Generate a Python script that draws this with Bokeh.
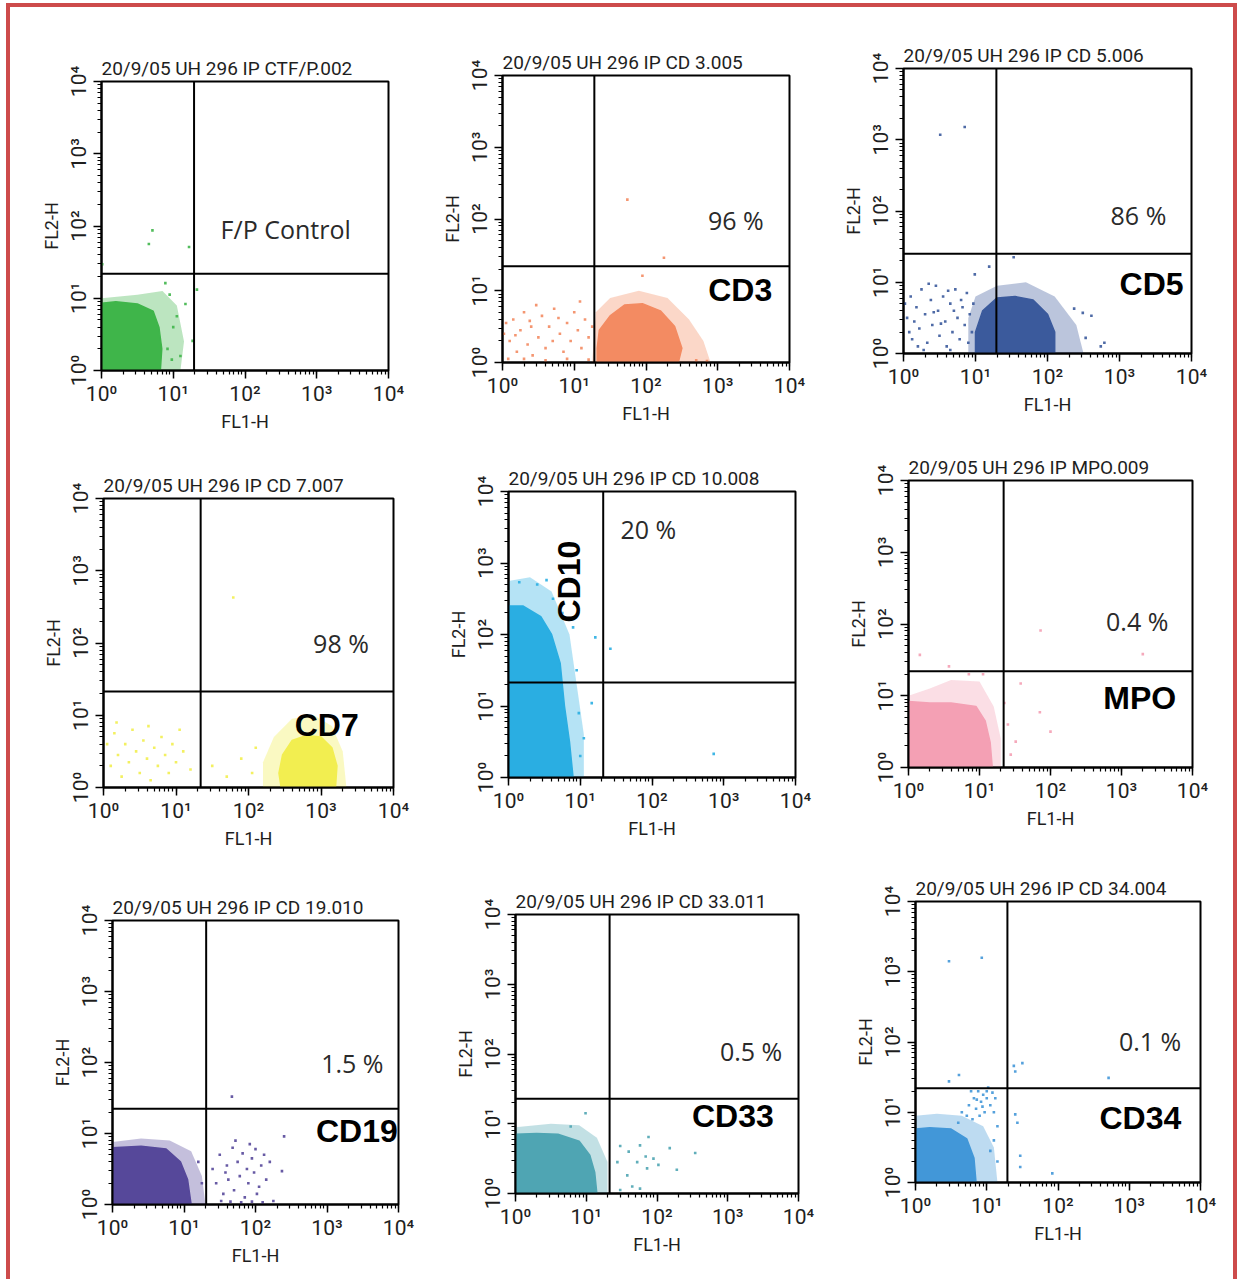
import math
from bokeh.plotting import figure
from bokeh.layouts import row, column
from bokeh.models import Range1d, LogTicker, CustomJSTickFormatter, Span, Label
from bokeh.embed import file_html
from bokeh.resources import INLINE

# ---------------- data (FL1/FL2 given as log10 decades) ----------------
TITLES = ["20/9/05 UH 296 IP CTF/P.002", "20/9/05 UH 296 IP CD 3.005", "20/9/05 UH 296 IP CD 5.006",
          "20/9/05 UH 296 IP CD 7.007", "20/9/05 UH 296 IP CD 10.008", "20/9/05 UH 296 IP  MPO.009",
          "20/9/05 UH 296 IP CD 19.010", "20/9/05 UH 296 IP CD 33.011", "20/9/05 UH 296 IP CD 34.004"]
MARKER_NAMES = ["F/P Control", "CD3", "CD5", "CD7", "CD10", "MPO", "CD19", "CD33", "CD34"]
PERCENT_TEXT = [None, "96 %", "86 %", "98 %", "20 %", "0.4 %", "1.5 %", "0.5 %", "0.1 %"]
X_LABEL = "FL1-H"
Y_LABEL = "FL2-H"
DECADES = [0, 1, 2, 3, 4]

GATE_X_LOG = [1.29, 1.28, 1.29, 1.34, 1.32, 1.34, 1.31, 1.33, 1.29]
GATE_Y_LOG = [1.34, 1.34, 1.40, 1.33, 1.33, 1.34, 1.35, 1.36, 1.34]

DOT_COLORS = ["#3fb54a", "#f38b62", "#3b5a9c", "#f2ee50", "#2aaee2",
              "#f4a0b4", "#56489a", "#4fa5b3", "#4297d8"]

CORE_OUTLINES = [
    [(0, 0), (0.82, 0), (0.84, 0.3), (0.8, 0.6), (0.72, 0.82), (0.5, 0.92), (0.2, 0.95), (0, 0.93)],
    [(1.32, 0), (2.45, 0), (2.5, 0.2), (2.4, 0.5), (2.2, 0.72), (1.95, 0.82), (1.7, 0.8), (1.5, 0.65), (1.35, 0.45), (1.32, 0.2)],
    [(1.0, 0), (2.1, 0), (2.1, 0.3), (2.0, 0.55), (1.8, 0.75), (1.55, 0.8), (1.3, 0.78), (1.1, 0.6), (1.0, 0.3)],
    [(2.45, 0), (3.2, 0), (3.22, 0.3), (3.15, 0.55), (3.0, 0.7), (2.8, 0.72), (2.6, 0.65), (2.47, 0.45), (2.42, 0.2)],
    [(0, 0), (0.9, 0), (0.85, 0.5), (0.78, 1.0), (0.72, 1.6), (0.6, 2.0), (0.45, 2.25), (0.2, 2.4), (0, 2.4)],
    [(0, 0), (1.18, 0), (1.15, 0.35), (1.08, 0.65), (0.95, 0.85), (0.6, 0.9), (0.3, 0.9), (0, 0.92)],
    [(0, 0), (1.1, 0), (1.05, 0.35), (0.95, 0.6), (0.75, 0.78), (0.4, 0.82), (0, 0.8)],
    [(0, 0), (1.15, 0), (1.12, 0.3), (1.05, 0.55), (0.9, 0.75), (0.6, 0.85), (0.3, 0.86), (0, 0.85)],
    [(0, 0), (0.85, 0), (0.82, 0.35), (0.72, 0.62), (0.5, 0.76), (0.2, 0.78), (0, 0.76)],
]

HALO_OUTLINES = [
    [(0, 0), (1.1, 0), (1.15, 0.4), (1.05, 0.9), (0.85, 1.1), (0.5, 1.05), (0, 1.0)],
    [(1.25, 0), (2.9, 0), (2.8, 0.3), (2.6, 0.6), (2.3, 0.9), (1.9, 1.0), (1.5, 0.9), (1.3, 0.7)],
    [(0.9, 0), (2.5, 0), (2.4, 0.4), (2.1, 0.8), (1.7, 1.0), (1.3, 0.95), (1.0, 0.8), (0.9, 0.5)],
    [(2.2, 0), (3.35, 0), (3.3, 0.5), (3.15, 0.85), (2.9, 1.0), (2.6, 0.95), (2.35, 0.7), (2.2, 0.35)],
    [(0, 0), (1.05, 0), (1.05, 0.6), (0.95, 1.3), (0.85, 2.0), (0.6, 2.6), (0.3, 2.8), (0, 2.75)],
    [(0, 0), (1.3, 0), (1.3, 0.4), (1.2, 0.85), (1.0, 1.2), (0.6, 1.22), (0.3, 1.1), (0, 1.0)],
    [(0, 0), (1.3, 0), (1.25, 0.4), (1.1, 0.75), (0.8, 0.9), (0.4, 0.93), (0, 0.88)],
    [(0, 0), (1.3, 0), (1.3, 0.45), (1.15, 0.8), (0.9, 0.98), (0.5, 1.0), (0, 0.95)],
    [(0, 0), (1.15, 0), (1.1, 0.5), (0.95, 0.8), (0.65, 0.95), (0.3, 0.98), (0, 0.95)],
]

SPARSE_EVENTS = [
    [(0.71, 1.94), (0.66, 1.75), (1.22, 1.71), (1.33, 1.12), (0.01, 1.47), (0.89, 1.21), (1.17, 0.92),
     (1.27, 0.41), (0.95, 1.05), (1.05, 0.75), (1.0, 0.6), (0.92, 0.3), (1.1, 0.2), (0.98, 0.15)],
    [(0.05, 0.55), (0.1, 0.3), (0.15, 0.6), (0.2, 0.15), (0.25, 0.45), (0.3, 0.7), (0.35, 0.25), (0.4, 0.5),
     (0.42, 0.1), (0.5, 0.35), (0.55, 0.65), (0.6, 0.2), (0.65, 0.5), (0.7, 0.3), (0.72, 0.75), (0.8, 0.4),
     (0.85, 0.15), (0.9, 0.55), (0.95, 0.3), (1.0, 0.7), (1.05, 0.45), (1.1, 0.2), (1.15, 0.6), (1.2, 0.35),
     (1.25, 0.5), (0.08, 0.05), (0.3, 0.05), (0.6, 0.03), (0.9, 0.05), (1.2, 0.04), (0.18, 0.38),
     (0.47, 0.8), (0.78, 0.62), (1.08, 0.85), (0.38, 0.58), (0.02, 0.4), (2.7, 0.03), (2.85, 0.02),
     (1.74, 2.27), (2.25, 1.46), (1.95, 1.21)],
    [(0.05, 0.5), (0.1, 0.8), (0.12, 0.2), (0.18, 0.65), (0.22, 0.35), (0.25, 0.9), (0.3, 0.55), (0.33, 0.15),
     (0.38, 0.75), (0.4, 0.4), (0.45, 0.95), (0.48, 0.6), (0.5, 0.25), (0.55, 0.8), (0.58, 0.45), (0.6, 0.1),
     (0.65, 0.7), (0.68, 0.3), (0.72, 0.9), (0.75, 0.5), (0.78, 0.2), (0.82, 0.65), (0.85, 0.4), (0.88, 0.85),
     (0.9, 0.15), (0.92, 0.55), (0.95, 0.3), (0.15, 0.45), (0.28, 0.05), (0.42, 0.58), (0.62, 0.88),
     (0.35, 0.98), (0.7, 0.6), (0.52, 0.42), (0.08, 0.3), (0.2, 0.1), (0.8, 0.75), (0.65, 0.05), (0.97, 0.7),
     (0.02, 0.7), (0.51, 3.07), (0.85, 3.18), (1.19, 1.22), (0.99, 1.11), (1.53, 1.35), (2.49, 0.57),
     (2.61, 0.53), (2.79, 0.15), (2.74, 0.1), (2.53, 0.22), (2.37, 0.63)],
    [(0.05, 0.6), (0.1, 0.3), (0.15, 0.75), (0.2, 0.45), (0.25, 0.15), (0.3, 0.6), (0.35, 0.35), (0.4, 0.8),
     (0.45, 0.5), (0.5, 0.2), (0.55, 0.65), (0.6, 0.4), (0.65, 0.1), (0.7, 0.55), (0.75, 0.3), (0.8, 0.7),
     (0.85, 0.45), (0.9, 0.2), (0.95, 0.6), (1.0, 0.35), (1.1, 0.5), (1.2, 0.25), (1.5, 0.3), (1.7, 0.15),
     (1.9, 0.4), (2.05, 0.2), (2.1, 0.55), (0.18, 0.9), (0.62, 0.85), (1.05, 0.8), (1.79, 2.63)],
    [(1.21, 1.96), (1.42, 1.8), (2.86, 0.33), (0.15, 2.73), (0.4, 2.7), (0.53, 2.76), (1.16, 1.04),
     (1.05, 0.55), (0.95, 1.5), (0.9, 2.1), (1.0, 0.3), (0.98, 0.9), (0.75, 2.3), (0.62, 2.5)],
    [(1.86, 1.91), (3.3, 1.58), (0.16, 1.57), (0.57, 1.41), (1.58, 1.17), (1.85, 0.77), (2.0, 0.5),
     (1.51, 0.36), (1.44, 0.18), (1.05, 1.3), (0.85, 1.3), (1.35, 0.9), (1.4, 0.6)],
    [(1.4, 0.5), (1.45, 0.3), (1.5, 0.7), (1.55, 0.15), (1.6, 0.55), (1.62, 0.35), (1.68, 0.8), (1.7, 0.2),
     (1.75, 0.6), (1.78, 0.4), (1.82, 0.72), (1.85, 0.1), (1.88, 0.5), (1.9, 0.3), (1.95, 0.65), (1.98, 0.45),
     (2.0, 0.78), (2.05, 0.25), (2.08, 0.55), (2.12, 0.7), (2.15, 0.35), (2.2, 0.6), (1.52, 0.05), (1.65, 0.04),
     (1.8, 0.03), (1.95, 0.04), (2.1, 0.03), (2.25, 0.05), (1.72, 0.9), (1.58, 0.45), (1.92, 0.85),
     (2.02, 0.15), (1.67, 1.52), (2.4, 0.96), (2.37, 0.47), (1.2, 0.6), (1.25, 0.3)],
    [(1.48, 0.68), (1.76, 0.69), (1.88, 0.81), (2.18, 0.65), (2.54, 0.58), (2.28, 0.34), (2.02, 0.41),
     (1.86, 0.36), (1.58, 0.26), (1.44, 0.45), (1.76, 0.07), (1.48, 0.05), (1.65, 0.1), (1.95, 0.5),
     (1.84, 0.53), (1.72, 0.45), (1.6, 0.6), (0.99, 1.15), (0.78, 0.96)],
    [(0.72, 0.95), (0.75, 1.1), (0.8, 0.9), (0.82, 1.2), (0.85, 1.05), (0.88, 1.3), (0.9, 0.95), (0.92, 1.15),
     (0.95, 1.25), (0.97, 1.0), (1.0, 1.2), (1.02, 1.35), (1.05, 1.1), (1.08, 1.28), (1.1, 1.0), (1.12, 1.2),
     (0.78, 1.3), (0.86, 1.18), (0.94, 1.08), (1.0, 1.3), (0.65, 1.0), (0.6, 0.85), (1.15, 0.8), (1.1, 0.6),
     (1.15, 0.3), (1.05, 0.45), (0.47, 3.15), (0.93, 3.2), (0.47, 1.44), (0.61, 1.53), (1.38, 1.66),
     (1.5, 1.7), (1.4, 1.58), (2.71, 1.49), (1.92, 0.13), (1.47, 0.22), (1.47, 0.38), (1.43, 0.85), (1.4, 0.97)],
]

# ---------------- layout (pixels) ----------------
FRAMES = [(101, 81, 287, 289), (502, 75, 287, 287), (903, 68, 288, 285),
          (103, 494, 290, 289), (508, 487, 287, 286), (908, 476, 284, 287),
          (112, 909, 286, 284), (515, 903, 283, 279), (915, 890, 285, 281)]
ROW_SPANS = [(7, 430), (430, 840), (840, 1275)]
INNER_LEFT, INNER_RIGHT, LEFT_PAD = 10, 1233, 91

# label positions in log10 decades: (x, y, align, angle)
NAME_POS = [(1.66, 1.96, "left", 0), (3.76, 1.01, "right", 0), (3.89, 0.98, "right", 0),
            (3.52, 0.86, "right", 0), (0.84, 2.74, "center", math.pi / 2), (3.77, 0.97, "right", 0),
            (3.99, 1.03, "right", 0), (3.65, 1.11, "right", 0), (3.73, 0.92, "right", 0)]
PCT_POS = [None, (3.64, 1.99, "right"), (3.65, 1.95, "right"), (3.66, 2.0, "right"),
           (1.56, 3.47, "left"), (3.66, 2.04, "right"), (3.79, 2.0, "right"),
           (3.77, 2.04, "right"), (3.73, 2.02, "right")]

NARROW = "Roboto"
SUP = "['\u2070','\u00b9','\u00b2','\u00b3','\u2074']"


def build(i, left_b, right_b, top_b, bottom_b):
    L, T, W, H = FRAMES[i]
    p = figure(x_axis_type="log", y_axis_type="log",
               x_range=Range1d(10 ** DECADES[0], 10 ** DECADES[-1]),
               y_range=Range1d(10 ** DECADES[0], 10 ** DECADES[-1]),
               frame_width=W, frame_height=H,
               min_border_left=left_b, min_border_right=right_b,
               min_border_top=top_b, min_border_bottom=bottom_b,
               output_backend="svg", toolbar_location=None,
               background_fill_color="white", border_fill_color="white",
               title=TITLES[i])
    p.grid.visible = False
    p.outline_line_color = "black"
    p.outline_line_width = 2
    p.title.text_font = NARROW
    p.title.text_font_size = "19px"
    p.title.text_font_style = "normal"
    p.title.text_color = "#1e1e1e"
    p.title.standoff = 4
    p.title.align = "left"

    fmt = CustomJSTickFormatter(code="const s=" + SUP + "; const e=Math.round(Math.log10(tick)); return '10'+s[e];")
    for ax in (p.xaxis[0], p.yaxis[0]):
        ax.ticker = LogTicker(desired_num_ticks=5, num_minor_ticks=10)
        ax.formatter = fmt
        ax.axis_line_width = 2
        ax.axis_line_color = "black"
        ax.major_tick_line_color = "black"
        ax.major_tick_line_width = 1.5
        ax.minor_tick_line_color = "black"
        ax.minor_tick_line_width = 1.2
        ax.major_tick_out = 8
        ax.major_tick_in = 0
        ax.minor_tick_out = 4
        ax.minor_tick_in = 0
        ax.major_label_text_font = NARROW
        ax.major_label_text_font_size = "21px"
        ax.major_label_text_color = "#1e1e1e"
        ax.major_label_standoff = 3
        ax.axis_label_text_font = NARROW
        ax.axis_label_text_font_size = "18px"
        ax.axis_label_text_font_style = "normal"
        ax.axis_label_text_color = "#1e1e1e"
        ax.axis_label_standoff = 2
    p.xaxis.axis_label = X_LABEL
    p.yaxis.axis_label = Y_LABEL
    p.yaxis.major_label_orientation = "vertical"

    col = DOT_COLORS[i]
    halo = HALO_OUTLINES[i]
    p.patch([10 ** a for a, b in halo], [10 ** b for a, b in halo],
            fill_color=col, fill_alpha=0.35, line_color=None)
    core = CORE_OUTLINES[i]
    p.patch([10 ** a for a, b in core], [10 ** b for a, b in core],
            fill_color=col, fill_alpha=1.0, line_color=col, line_width=1.5)
    ev = SPARSE_EVENTS[i]
    p.scatter([10 ** a for a, b in ev], [10 ** b for a, b in ev], marker="square",
              size=2.6, fill_color=col, line_color=None, fill_alpha=0.9)

    p.add_layout(Span(location=10 ** GATE_X_LOG[i], dimension="height", line_color="black", line_width=2))
    p.add_layout(Span(location=10 ** GATE_Y_LOG[i], dimension="width", line_color="black", line_width=2))

    nx, ny, na, ang = NAME_POS[i]
    if i == 0:
        p.add_layout(Label(x=10 ** nx, y=10 ** ny, text=MARKER_NAMES[i], text_align=na,
                           text_baseline="middle", text_font="Open Sans", text_font_size="25px",
                           text_color="#2a2a2a"))
    else:
        p.add_layout(Label(x=10 ** nx, y=10 ** ny, text=MARKER_NAMES[i], text_align=na, angle=ang,
                           text_baseline="middle", text_font="Liberation Sans", text_font_size="32px",
                           text_font_style="bold", text_color="black"))
        px, py, pa = PCT_POS[i]
        p.add_layout(Label(x=10 ** px, y=10 ** py, text=PERCENT_TEXT[i], text_align=pa,
                           text_baseline="middle", text_font="Open Sans", text_font_size="25px",
                           text_color="#2a2a2a"))
    return p


rows = []
for r in range(3):
    r_top, r_bot = ROW_SPANS[r]
    cells = []
    for c in range(3):
        i = r * 3 + c
        L, T, W, H = FRAMES[i]
        start = INNER_LEFT if c == 0 else L - LEFT_PAD
        if c < 2:
            nxt = FRAMES[i + 1][0] - LEFT_PAD
        else:
            nxt = INNER_RIGHT
        fig = build(i, L - start, nxt - (L + W), T - r_top, r_bot - (T + H))
        cells.append(column(fig, spacing=0))
    rows.append(row(*cells, spacing=0))

layout = column(*rows, spacing=0,
                styles={"border": "4px solid #cd4b4b", "margin-left": "6px", "margin-top": "3px"})

open("out.html", "w", encoding="utf-8").write(file_html(layout, INLINE))
